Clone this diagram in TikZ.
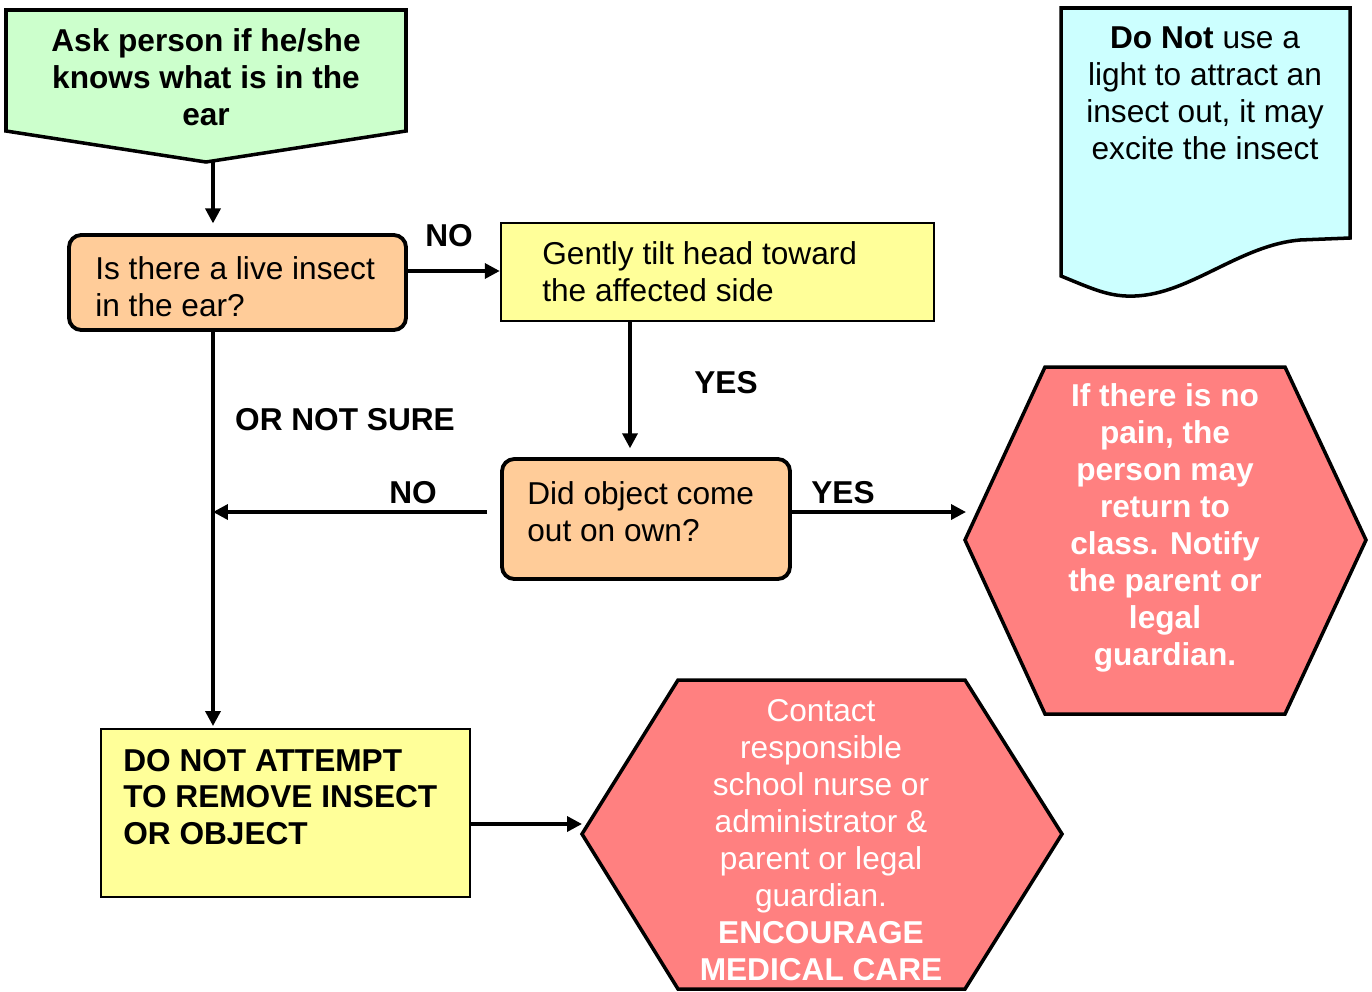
\documentclass[tikz,border=0pt]{standalone}
\usepackage{fontspec}
\setmainfont{Liberation Sans}
\usetikzlibrary{arrows.meta}
\definecolor{cgreen}{HTML}{CCFFCC}
\definecolor{corange}{HTML}{FFCC99}
\definecolor{cyellow}{HTML}{FFFF99}
\definecolor{ccyan}{HTML}{CCFFFF}
\definecolor{cred}{HTML}{FF8080}
\begin{document}
\begin{tikzpicture}[x=0.02cm,y=-0.02cm,
  font=\fontsize{18}{21}\selectfont,
  txt/.style={inner sep=0pt,align=left},
  ctxt/.style={inner sep=0pt,align=center},
  lbl/.style={inner sep=0pt,font=\fontsize{18}{21}\selectfont\bfseries},
  obox/.style={draw,line width=2.2pt,fill=corange,rounded corners=7pt,inner sep=0pt},
  ybox/.style={draw,line width=1.4pt,fill=cyellow,inner sep=0pt},
  shapeline/.style={draw,line width=2pt,line join=miter},
  arr/.style={line width=2pt,-{Triangle[length=8.5pt,width=8.5pt]}}]
\useasboundingbox (0,0) rectangle (1372,991);

% green pentagon
\path[shapeline,fill=cgreen] (6,10) -- (406,10) -- (406,131) -- (206,162) -- (6,131) -- cycle;
\node[ctxt,font=\fontsize{18}{21}\selectfont\bfseries] (ask) at (206,77) {Ask person if he/she\\knows what is in the\\ear};

% cyan document
\path[shapeline,fill=ccyan] (1061,8) -- (1350,8) -- (1350,238) -- (1300,240)
  .. controls (1240,245) and (1190,294) .. (1135,296)
  .. controls (1110,297) and (1095,290) .. (1061,276) -- cycle;
\node[ctxt] (note) at (1205,93) {\textbf{Do Not} use a\\light to attract an\\insect out, it may\\excite the insect};

% boxes
\node[obox,minimum width=337*0.02cm,minimum height=95*0.02cm] (q1) at (237.5,282.5) {};
\node[txt,anchor=west] (q1t) at (95,287) {Is there a live insect\\in the ear?};

\node[ybox,minimum width=433*0.02cm,minimum height=98*0.02cm] (tilt) at (717.5,272) {};
\node[txt,anchor=west] (tiltt) at (542,272) {Gently tilt head toward\\the affected side};

\node[obox,minimum width=288*0.02cm,minimum height=120*0.02cm] (obj) at (646,519) {};
\node[txt,anchor=west] (objt) at (527,512) {Did object come\\out on own?};

\node[ybox,minimum width=369*0.02cm,minimum height=168*0.02cm] (dnr) at (285.5,813) {};
\node[txt,anchor=west,font=\fontsize{18}{21}\selectfont\bfseries] (dnrt) at (123,797) {DO NOT ATTEMPT\\TO REMOVE INSECT\\OR OBJECT};

% hexagons
\path[shapeline,fill=cred] (965,540) -- (1045,367) -- (1285,367) -- (1366,540) -- (1285,714) -- (1045,714) -- cycle;
\node[ctxt,text=white,font=\fontsize{18}{21}\selectfont\bfseries] (hex1) at (1165,528) {If there is no\\pain, the\\person may\\return to\\class. Notify\\the parent or\\legal\\guardian.};

\path[shapeline,fill=cred] (582,834) -- (678,680) -- (965,680) -- (1062,834) -- (965,989) -- (678,989) -- cycle;
\node[ctxt,text=white] (hex2) at (821,840) {Contact\\responsible\\school nurse or\\administrator \&\\parent or legal\\guardian.\\\textbf{ENCOURAGE}\\\textbf{MEDICAL CARE}};

% connector coordinates
\coordinate (asktip) at (213,162);
\coordinate (q1r) at (406,271);
\coordinate (tiltb) at (630,321);
\coordinate (objr) at (790,512);
\coordinate (hex1l) at (966,512);
\coordinate (objl) at (487,512);
\coordinate (q1b) at (213,330);
\coordinate (dnrr) at (470,824);
\coordinate (hex2l) at (582,824);

% connectors
\draw[arr,shorten >=5.5pt] (asktip) -- (asktip |- q1.north);
\draw[arr] (q1r) -- (q1r -| tilt.west);
\draw[arr,shorten >=5pt] (tiltb) -- (tiltb |- obj.north);
\draw[arr] (objr) -- (hex1l);
\draw[arr] (objl) -- (objl -| q1b);
\draw[arr,shorten >=1pt] (q1b) -- (q1b |- dnr.north);
\draw[arr] (dnrr) -- (hex2l);

% labels
\node[lbl] (l1) at (449,236) {NO};
\node[lbl] (l2) at (726,383) {YES};
\node[lbl] (l3) at (345,420) {OR NOT SURE};
\node[lbl] (l4) at (413,493) {NO};
\node[lbl] (l5) at (843,493) {YES};
\end{tikzpicture}
\end{document}
